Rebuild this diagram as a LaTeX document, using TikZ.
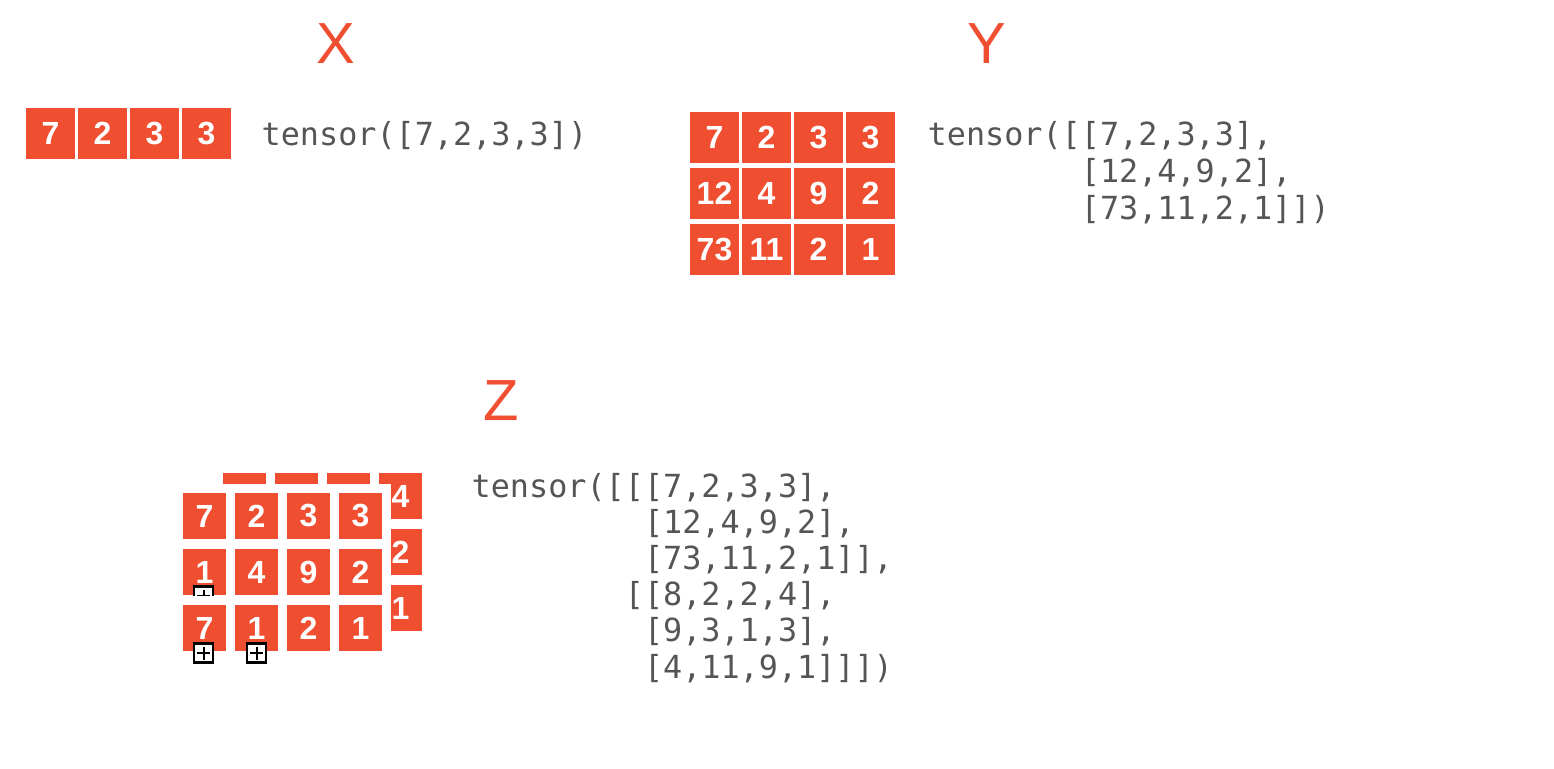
\documentclass[tikz,border=0pt]{standalone}
\usepackage{fontspec}
\setmainfont{Liberation Sans}
\newfontfamily\codefont{DejaVu Sans Mono}
\definecolor{tred}{RGB}{240,78,48}
\definecolor{tgray}{RGB}{85,85,85}
\tikzset{
  cell/.style={fill=tred,text=white,inner sep=0pt,minimum width=49pt,minimum height=51pt,
    font=\bfseries\fontsize{32}{38}\selectfont},
  zcell/.style={cell,minimum width=43pt,minimum height=46pt},
  zfront/.style={zcell,draw=white,line width=9pt,minimum width=52pt,minimum height=55pt},
  title/.style={text=tred,inner sep=0pt,font=\fontsize{58}{70}\selectfont},
  code/.style={text=tgray,inner sep=0pt,anchor=base west,font=\codefont\fontsize{31.8}{37}\selectfont},
  imgbox/.style={draw=black,fill=white,line width=2.2pt,minimum size=19pt,inner sep=0pt,
    path picture={
      \draw[line width=2pt] ([yshift=-3pt]path picture bounding box.north) -- ([yshift=3pt]path picture bounding box.south);
      \draw[line width=2pt] ([xshift=3pt]path picture bounding box.west) -- ([xshift=-3pt]path picture bounding box.east);
    }}
}
\begin{document}
\begin{tikzpicture}[x=1pt,y=-1pt]
\useasboundingbox (0,0) rectangle (1554,768);
% titles
\node[title] (tX) at (335.5,43.5) {X};
\node[title] (tY) at (986.5,43.5) {Y};
\node[title] (tZ) at (501.5,401) {Z};
% X
\node[cell] (x1) at (50.5,133.5) {7};
\node[cell] (x2) at (102.5,133.5) {2};
\node[cell] (x3) at (154.5,133.5) {3};
\node[cell] (x4) at (206.5,133.5) {3};
\node[code] (cX) at (261.5,145) {tensor([7,2,3,3])};
% Y
\node[cell] (y11) at (714.5,137.2) {7};
\node[cell] (y12) at (766.5,137.2) {2};
\node[cell] (y13) at (818.5,137.2) {3};
\node[cell] (y14) at (870.5,137.2) {3};
\node[cell] (y21) at (714.5,193.2) {12};
\node[cell] (y22) at (766.5,193.2) {4};
\node[cell] (y23) at (818.5,193.2) {9};
\node[cell] (y24) at (870.5,193.2) {2};
\node[cell] (y31) at (714.5,249.2) {73};
\node[cell] (y32) at (766.5,249.2) {11};
\node[cell] (y33) at (818.5,249.2) {2};
\node[cell] (y34) at (870.5,249.2) {1};
\node[code] (cYa) at (927.5,145) {tensor([[7,2,3,3],};
\node[code] (cYb) at (927.5,182) {\phantom{tensor([}[12,4,9,2],};
\node[code] (cYc) at (927.5,219) {\phantom{tensor([}[73,11,2,1]])};
% Z, back layer (mostly hidden)
\node[zcell] (b11) at (244.5,496) {8};
\node[zcell] (b12) at (296.5,496) {2};
\node[zcell] (b13) at (348.5,496) {2};
\node[zcell] (b14) at (400.5,496) {4};
\node[zcell] (b21) at (244.5,552) {};
\node[zcell] (b22) at (296.5,552) {};
\node[zcell] (b23) at (348.5,552) {};
\node[zcell] (b24) at (400.5,552) {2};
\node[zcell] (b31) at (244.5,608) {};
\node[zcell] (b32) at (296.5,608) {};
\node[zcell] (b33) at (348.5,608) {};
\node[zcell] (b34) at (400.5,608) {1};
% Z, front layer
\node[zfront] (f11) at (204.5,516) {7};
\node[zfront] (f12) at (256.5,516) {2};
\node[zfront] (f13) at (308.5,516) {3};
\node[zfront] (f14) at (360.5,516) {3};
\node[zfront] (f21) at (204.5,572) {1};
\node[zfront] (f22) at (256.5,572) {4};
\node[zfront] (f23) at (308.5,572) {9};
\node[zfront] (f24) at (360.5,572) {2};
\node[imgbox] (bx3) at (203.5,596) {};
\node[zfront] (f31) at (204.5,628) {7};
\node[zfront] (f32) at (256.5,628) {1};
\node[zfront] (f33) at (308.5,628) {2};
\node[zfront] (f34) at (360.5,628) {1};
\node[imgbox] (bx1) at (203.5,653) {};
\node[imgbox] (bx2) at (256.5,653) {};
\node[code] (cZa) at (471.5,497) {tensor([[[7,2,3,3],};
\node[code] (cZb) at (471.5,533.2) {\phantom{tensor([[}[12,4,9,2],};
\node[code] (cZc) at (471.5,569.4) {\phantom{tensor([[}[73,11,2,1]],};
\node[code] (cZd) at (471.5,605.6) {\phantom{tensor([}[[8,2,2,4],};
\node[code] (cZe) at (471.5,641.8) {\phantom{tensor([[}[9,3,1,3],};
\node[code] (cZf) at (471.5,678) {\phantom{tensor([[}[4,11,9,1]]])};
\end{tikzpicture}
\end{document}
